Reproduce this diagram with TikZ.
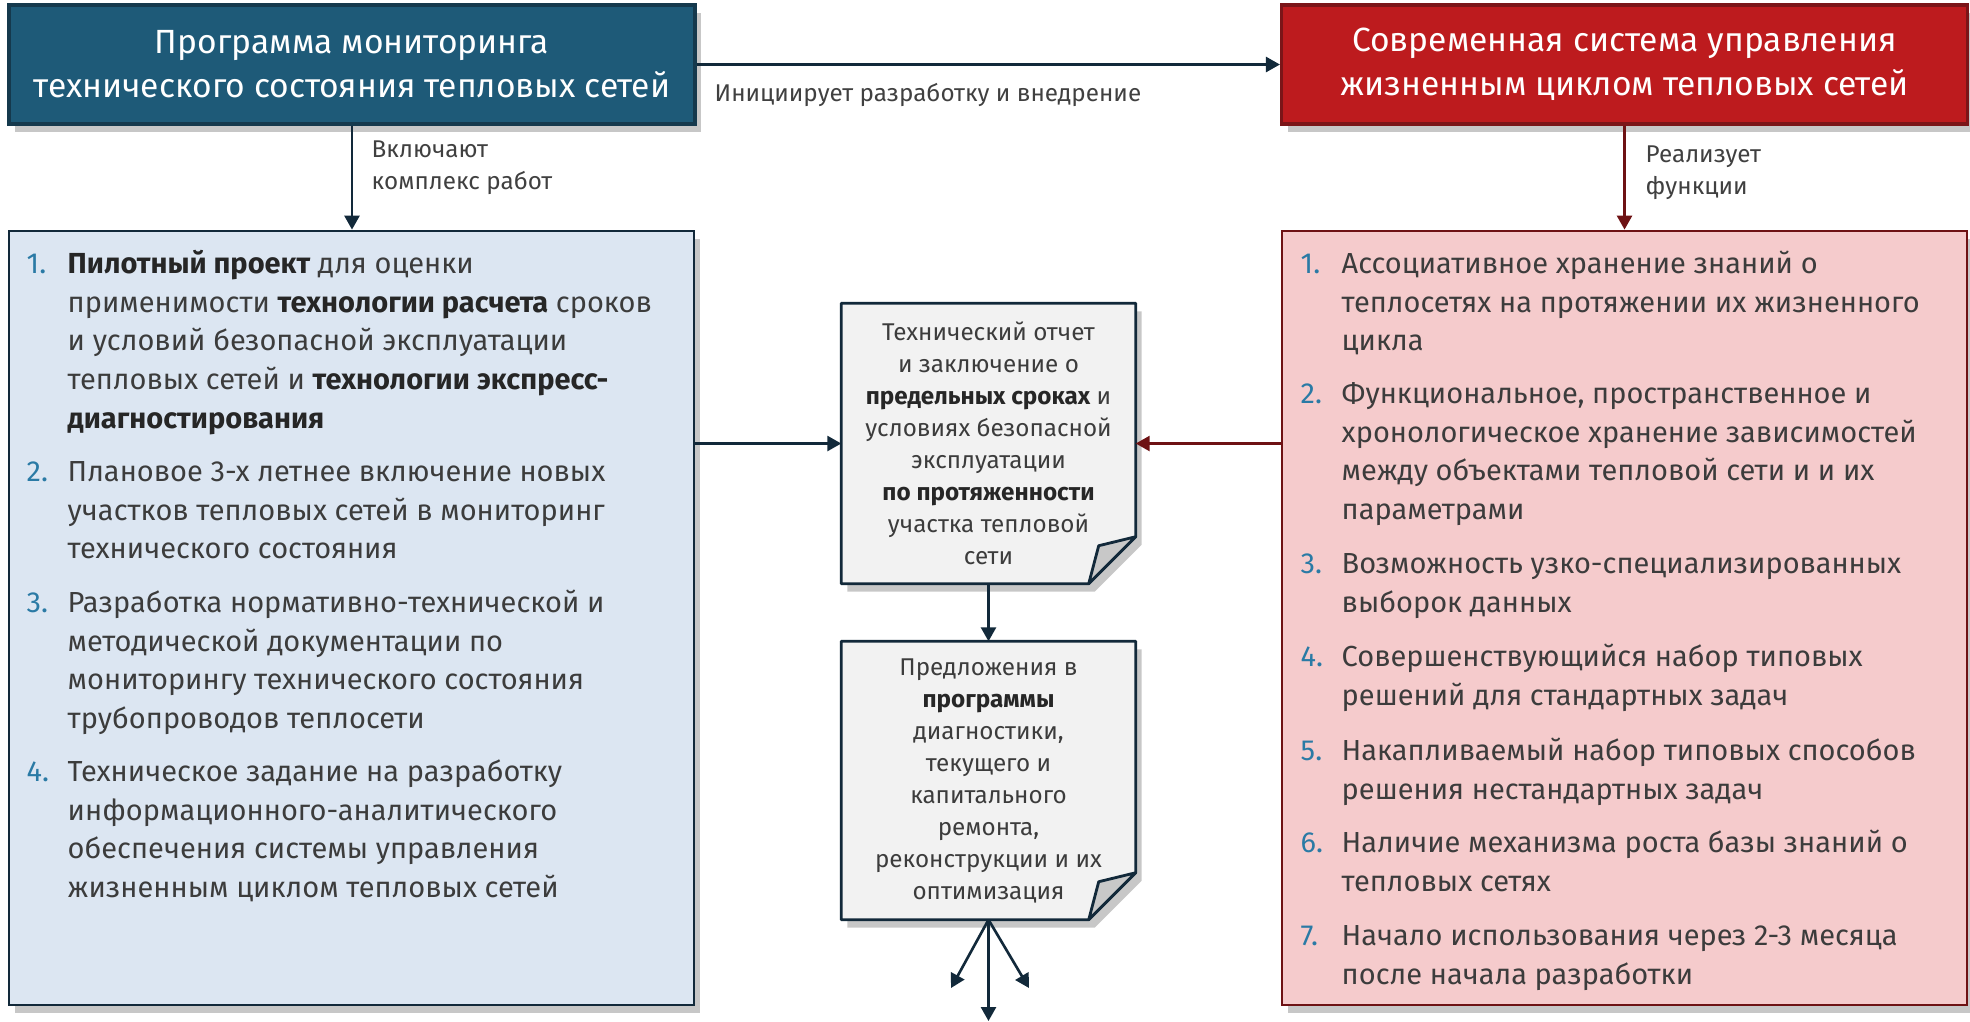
\documentclass[tikz,border=0pt]{standalone}
\usepackage{fontspec}
\setmainfont{Fira Sans}
\usepackage{xcolor}
\usepackage{tikz}
\usetikzlibrary{arrows.meta,shadows,backgrounds}
\definecolor{navy}{HTML}{12293A}
\definecolor{darkred}{HTML}{6E1214}
\definecolor{hdrblue}{HTML}{1E5A78}
\definecolor{hdrblueline}{HTML}{15394D}
\definecolor{hdrred}{HTML}{BD1B1E}
\definecolor{hdrredline}{HTML}{7B1518}
\definecolor{listblue}{HTML}{DCE6F2}
\definecolor{listred}{HTML}{F5CBCC}
\definecolor{docfill}{HTML}{F2F2F2}
\definecolor{flapfill}{HTML}{C8C8C8}
\definecolor{numblue}{HTML}{2A7AA5}
\definecolor{bodytext}{HTML}{3C3C3C}
\definecolor{lblgray}{HTML}{404040}
\newcommand{\bt}[1]{\textbf{\color{black!85}#1}}
\tikzset{
  shade/.style={drop shadow={shadow xshift=0.6mm, shadow yshift=-0.8mm, fill=black, opacity=0.22}},
  hdr/.style={minimum width=68.6mm, minimum height=11.9mm, line width=0.9pt, text=white, align=center, shade, font=\fontsize{9.55}{12.5}\selectfont},
  bluehdr/.style={hdr, fill=hdrblue, draw=hdrblueline},
  redhdr/.style={hdr, fill=hdrred, draw=hdrredline},
  listbox/.style={minimum width=68.5mm, minimum height=77.4mm, line width=0.8pt, shade},
  bluelist/.style={listbox, fill=listblue, draw=navy},
  redlist/.style={listbox, fill=listred, draw=darkred},
  entry/.style={anchor=north west, inner sep=0pt, align=left, text=bodytext, font=\fontsize{8.25}{10.98}\selectfont},
  num/.style={entry, text=numblue},
  doc/.style={minimum width=29.3mm, inner sep=0pt, align=center, text=bodytext, font=\fontsize{6.9}{9.1}\selectfont},
  docline/.style={draw=navy, line width=0.8pt, fill=docfill, line join=round, shade},
  flap/.style={draw=navy, line width=0.8pt, fill=flapfill, line join=round},
  lbl/.style={anchor=north west, text=lblgray, align=left, inner sep=0pt, font=\fontsize{6.9}{9.1}\selectfont},
  arr/.style={draw=navy, line width=0.75pt, -{Triangle[length=1.4mm, width=1.5mm]}},
  rarr/.style={arr, draw=darkred}
}

\begin{document}
\begin{tikzpicture}[x=1mm, y=-1mm]
  \useasboundingbox (0,0) rectangle (197,102.1);

  \node (hdrL) [bluehdr] at (35.2,6.45) {Программа мониторинга\\технического состояния тепловых сетей};
  \node (hdrR) [redhdr] at (162.45,6.45) {Современная система управления\\жизненным циклом тепловых сетей};

  \node (listL) [bluelist] at (35.15,61.8) {};
  \node (listR) [redlist] at (162.45,61.8) {};

  \node (doc1) [doc, minimum height=27.9mm] at (98.85,44.35) {Технический отчет\\и заключение о\\\bt{предельных сроках} и\\условиях безопасной\\эксплуатации\\\bt{по протяженности}\\участка тепловой\\сети};
  \node (doc2) [doc, minimum height=27.7mm] at (98.85,78.05) {Предложения в\\\bt{программы}\\диагностики,\\текущего и\\капитального\\ремонта,\\реконструкции и их\\оптимизация};

  \begin{scope}[on background layer]
    \foreach \d in {doc1,doc2} {
      \path[docline] (\d.north west) -- (\d.north east) -- ([yshift=4.7mm]\d.south east)
        -- ([xshift=-4.7mm]\d.south east) -- (\d.south west) -- cycle;
      \path[flap] ([yshift=4.7mm]\d.south east) -- ([xshift=-3.7mm, yshift=3.8mm]\d.south east)
        -- ([xshift=-4.7mm]\d.south east) -- cycle;
    }
  \end{scope}

  \foreach \n/\y/\t in {
    1/24.6/{\bt{Пилотный проект} для оценки\\применимости \bt{технологии расчета} сроков\\и условий безопасной эксплуатации\\тепловых сетей и \bt{технологии экспресс-}\\\bt{диагностирования}},
    2/45.4/{Плановое 3-х летнее включение новых\\участков тепловых сетей в мониторинг\\технического состояния},
    3/58.5/{Разработка нормативно-технической и\\методической документации по\\мониторингу технического состояния\\трубопроводов теплосети},
    4/75.4/{Техническое задание на разработку\\информационного-аналитического\\обеспечения системы управления\\жизненным циклом тепловых сетей}} {
    \node (Ln\n) [num] at (2.6,\y) {\strut\n.};
    \node (L\n) [entry] at (6.7,\y) {\strut\t};
  }

  \foreach \n/\y/\t in {
    1/24.6/{Ассоциативное хранение знаний о\\теплосетях на протяжении их жизненного\\цикла},
    2/37.6/{Функциональное, пространственное и\\хронологическое хранение зависимостей\\между объектами тепловой сети и и их\\параметрами},
    3/54.6/{Возможность узко-специализированных\\выборок данных},
    4/63.9/{Совершенствующийся набор типовых\\решений для стандартных задач},
    5/73.3/{Накапливаемый набор типовых способов\\решения нестандартных задач},
    6/82.5/{Наличие механизма роста базы знаний о\\тепловых сетях},
    7/91.8/{Начало использования через 2-3 месяца\\после начала разработки}} {
    \node (Rn\n) [num] at (130.0,\y) {\strut\n.};
    \node (R\n) [entry] at (134.1,\y) {\strut\t};
  }

  \node (lblInit) [lbl] at (71.4,7.8) {\strut Инициирует разработку и внедрение};
  \node (lblWorks) [lbl] at (37.1,13.4) {\strut Включают\\комплекс работ};
  \node (lblFunc) [lbl] at (164.5,13.9) {\strut Реализует\\функции};

  \coordinate (outL) at (95.1,98.8);
  \coordinate (outM) at (98.85,102.1);
  \coordinate (outR) at (102.9,98.8);

  \draw[arr] (hdrL.east) -- (hdrR.west);
  \draw[arr] (hdrL.south) -- (hdrL.south |- listL.north);
  \draw[rarr] (hdrR.south) -- (hdrR.south |- listR.north);
  \draw[arr] (listL.east |- doc1.west) -- (doc1.west);
  \draw[rarr] (listR.west |- doc1.east) -- (doc1.east);
  \draw[arr] (doc1.south) -- (doc2.north);
  \draw[arr] (doc2.south) -- (outL);
  \draw[arr] (doc2.south) -- (outM);
  \draw[arr] (doc2.south) -- (outR);
\end{tikzpicture}
\end{document}
